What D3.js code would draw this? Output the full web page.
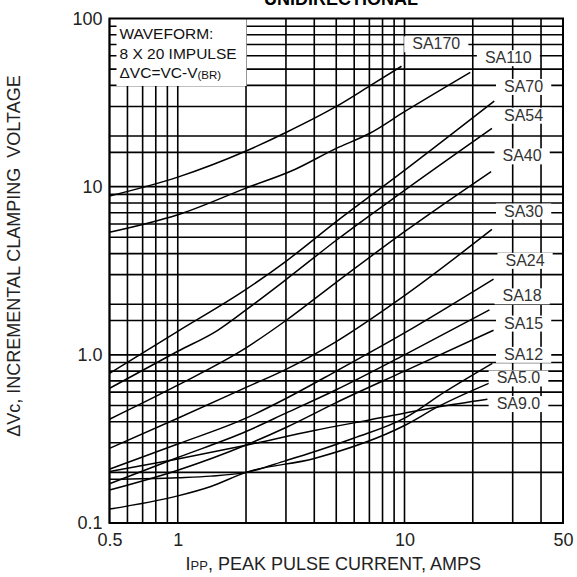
<!DOCTYPE html>
<html>
<head>
<meta charset="utf-8">
<script src="https://cdn.jsdelivr.net/npm/d3@7"></script>
<style>
  body { margin: 0; background: #fff; }
  text { font-family: Arial, "Liberation Sans", Helvetica, sans-serif; }
</style>
</head>
<body>
<svg id="chart" width="577" height="577"></svg>
<script>
// Axis ticks and labels
const xTickValues = [0.5, 1, 10, 50];
const xTickLabels = ["0.5", "1", "10", "50"];
const yTickValues = [0.1, 1, 10, 100];
const yTickLabels = ["0.1", "1.0", "10", "100"];

// Grid lines of the log paper
const xGridValues = [0.5, 0.6, 0.7, 0.8, 0.9, 1, 2, 3, 4, 5, 6, 7, 8, 9, 10, 20, 30, 40, 50];
const yGridValues = [0.2, 0.3, 0.4, 0.5, 0.6, 0.7, 0.8, 0.9, 1, 1.6, 2, 3, 4, 5, 6, 7, 8, 9,
                     10, 16, 20, 30, 40, 50, 60, 70, 80, 90];

// Curves: [peak pulse current (A), incremental clamping voltage (V)]
const sa170 = [[0.5, 8.8], [1, 11.4], [2, 16.3], [3, 21], [5, 30], [7, 39.6], [9.7, 52]];
const sa110 = [[0.5, 5.35], [1, 6.8], [2, 9.8], [3.3, 12.7], [5, 16.9], [7, 20.7], [10, 27.9], [19.5, 47.8]];
const sa70  = [[0.5, 0.776], [1, 1.38], [2, 2.45], [3, 3.6], [5, 6.2], [10, 12.5], [24.9, 32.3]];
const sa54  = [[0.5, 0.632], [1, 1.05], [1.5, 1.4], [2, 1.85], [3, 2.8], [5, 4.8], [10, 9.5], [24.3, 22.2]];
const sa40  = [[0.5, 0.414], [1, 0.66], [2, 1.1], [3, 1.6], [5, 2.7], [10, 5.4], [24.1, 12.3]];
const sa30  = [[0.5, 0.278], [1, 0.42], [2, 0.64], [3, 0.82], [5, 1.2], [10, 2.25], [24.3, 5.57]];
const sa24  = [[0.5, 0.209], [1, 0.295], [2, 0.42], [3, 0.55], [5, 0.8], [10, 1.35], [24.7, 2.82]];
const sa18  = [[0.5, 0.171], [1, 0.245], [2, 0.35], [3, 0.45], [5, 0.62], [10, 1.0], [23.7, 1.85]];
const sa15  = [[0.5, 0.157], [1, 0.206], [2, 0.291], [3, 0.37], [5, 0.52], [10, 0.8], [24.7, 1.4]];
const sa12  = [[0.5, 0.182], [1, 0.186], [1.4, 0.19], [2, 0.2], [3, 0.235], [4, 0.265], [6, 0.32], [10, 0.42], [15, 0.6], [24.4, 0.89]];
const sa50  = [[0.5, 0.121], [1, 0.145], [1.4, 0.165], [2, 0.2], [4, 0.242], [10, 0.38], [14, 0.49], [24.1, 0.686]];
const sa90  = [[0.5, 0.202], [1, 0.24], [2, 0.29], [4, 0.355], [7, 0.41], [14, 0.49], [23.2, 0.545]];

const curveNames = ["SA170", "SA110", "SA70", "SA54", "SA40", "SA30", "SA24", "SA18", "SA15", "SA12", "SA5.0", "SA9.0"];
const curveData = [sa170, sa110, sa70, sa54, sa40, sa30, sa24, sa18, sa15, sa12, sa50, sa90];

// Where each curve name sits (current, voltage)
const labelCurrent = [13.8, 28.7, 33.5, 33.5, 33, 33.5, 34, 33, 33.5, 33.5, 31.8, 31.8];
const labelVoltage = [71, 58.7, 39.6, 26.7, 15.3, 7.19, 3.66, 2.25, 1.55, 1.01, 0.731, 0.515];

const svg = d3.select("#chart");

// Margins and plot size
const margin = { top: 18.5, right: 14, bottom: 54, left: 109.5 };
const width = 577 - margin.left - margin.right;
const height = 577 - margin.top - margin.bottom;

const x = d3.scaleLog().domain([0.5, 50]).range([0, width]);
const y = d3.scaleLog().domain([0.1, 100]).range([height, 0]);

const g = svg.append("g").attr("transform", `translate(${margin.left},${margin.top})`);

// Grid
g.append("g").selectAll("line")
  .data(xGridValues)
  .enter().append("line")
  .attr("x1", d => x(d)).attr("x2", d => x(d))
  .attr("y1", 0).attr("y2", height)
  .attr("stroke", "#000").attr("stroke-width", 1.6);

g.append("g").selectAll("line")
  .data(yGridValues)
  .enter().append("line")
  .attr("x1", 0).attr("x2", width)
  .attr("y1", d => y(d)).attr("y2", d => y(d))
  .attr("stroke", "#000").attr("stroke-width", 1.6);

// Curves
g.append("clipPath").attr("id", "plot-clip")
  .append("rect").attr("width", width).attr("height", height);

const line = d3.line()
  .x(d => x(d[0]))
  .y(d => y(d[1]))
  .curve(d3.curveMonotoneX);

g.append("g").attr("clip-path", "url(#plot-clip)")
  .selectAll("path")
  .data(curveData)
  .enter().append("path")
  .attr("d", line)
  .attr("fill", "none")
  .attr("stroke", "#000")
  .attr("stroke-width", 1.5);

// Curve labels in white boxes
const labels = g.append("g").selectAll("g")
  .data(curveNames)
  .enter().append("g")
  .attr("transform", (d, i) => `translate(${x(labelCurrent[i])},${y(labelVoltage[i])})`);

labels.append("rect").attr("fill", "#fff");
labels.append("text")
  .attr("text-anchor", "middle")
  .attr("dy", "0.36em")
  .attr("font-size", 16)
  .attr("fill", "#333")
  .text(d => d);

labels.each(function () {
  const grp = d3.select(this);
  const bb = grp.select("text").node().getBBox();
  grp.select("rect")
    .attr("x", bb.x - 8).attr("y", bb.y + 1)
    .attr("width", bb.width + 16).attr("height", bb.height - 1);
});

// Waveform note box
const note = g.append("g");
note.append("rect")
  .attr("x", 7).attr("y", 0)
  .attr("width", 130).attr("height", 67.5)
  .attr("fill", "#fff");
const noteText = note.append("text").attr("font-size", 15.5).attr("fill", "#111");
noteText.append("tspan").attr("x", 10).attr("y", 20).text("WAVEFORM:");
noteText.append("tspan").attr("x", 10).attr("y", 40).text("8 X 20 IMPULSE");
noteText.append("tspan").attr("x", 10).attr("y", 59.5).text("\u0394VC=VC-V");
noteText.append("tspan").attr("font-size", 11.5).attr("dy", 1).text("(BR)");

// Border
g.append("rect")
  .attr("width", width).attr("height", height)
  .attr("fill", "none").attr("stroke", "#000").attr("stroke-width", 2);

// Axis tick labels
const xAxis = d3.axisBottom(x)
  .tickValues(xTickValues)
  .tickFormat((d, i) => xTickLabels[i])
  .tickSize(0).tickPadding(10);
g.append("g")
  .attr("transform", `translate(0,${height})`)
  .call(xAxis)
  .call(a => a.select(".domain").remove())
  .selectAll("text")
  .attr("font-size", 18).attr("fill", "#222")
  .attr("font-family", "Arial, 'Liberation Sans', sans-serif");

const yAxis = d3.axisLeft(y)
  .tickValues(yTickValues)
  .tickFormat((d, i) => yTickLabels[i])
  .tickSize(0).tickPadding(7);
g.append("g")
  .call(yAxis)
  .call(a => a.select(".domain").remove())
  .selectAll("text")
  .attr("font-size", 18).attr("fill", "#222")
  .attr("font-family", "Arial, 'Liberation Sans', sans-serif");

// Titles (the heading sits partly above the page edge, as in the source)
svg.append("text")
  .attr("x", 341).attr("y", 5)
  .attr("text-anchor", "middle")
  .attr("font-size", 18).attr("font-weight", "bold")
  .text("UNIDIRECTIONAL");

const xTitle = svg.append("text")
  .attr("x", margin.left + width / 2 - 3).attr("y", 570)
  .attr("text-anchor", "middle")
  .attr("font-size", 18).attr("fill", "#222");
xTitle.append("tspan").text("I");
xTitle.append("tspan").attr("font-size", 13).text("PP");
xTitle.append("tspan").text(", PEAK PULSE CURRENT, AMPS");

svg.append("text")
  .attr("transform", "translate(20,256) rotate(-90)")
  .attr("text-anchor", "middle")
  .attr("font-size", 18).attr("fill", "#222")
  .style("white-space", "pre")
  .text("\u0394Vc, INCREMENTAL CLAMPING  VOLTAGE");
</script>
</body>
</html>
